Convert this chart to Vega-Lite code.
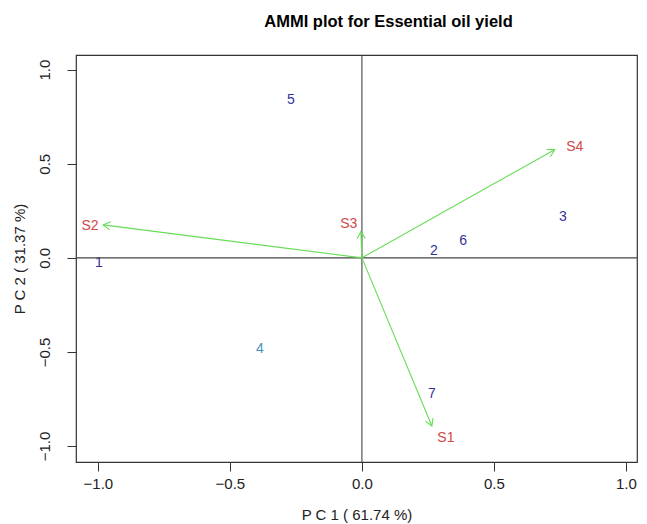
{
  "$schema": "https://vega.github.io/schema/vega-lite/v6.json",
  "width": 561,
  "height": 407,
  "autosize": {"type": "none"},
  "padding": {"left": 76, "top": 55, "right": 10, "bottom": 62},
  "background": "white",
  "title": {
    "text": "AMMI plot for Essential oil yield",
    "font": "Liberation Sans",
    "fontSize": 16.5,
    "fontWeight": "bold",
    "color": "black",
    "anchor": "middle",
    "dx": 32,
    "offset": 24
  },
  "config": {
    "view": {"stroke": "#333333", "strokeWidth": 1.2},
    "axis": {
      "grid": false,
      "domain": false,
      "ticks": true,
      "tickColor": "#333333",
      "tickSize": 9,
      "labelFont": "Liberation Sans",
      "labelFontSize": 15,
      "labelColor": "#222222",
      "titleFont": "Liberation Sans",
      "titleFontSize": 15,
      "titleFontWeight": "normal",
      "titleColor": "#222222"
    }
  },
  "datasets": {
    "genotypes": [
      {"label": "1", "PC1": -0.996, "PC2": -0.025},
      {"label": "2", "PC1": 0.273, "PC2": 0.037},
      {"label": "3", "PC1": 0.761, "PC2": 0.218},
      {"label": "4", "PC1": -0.386, "PC2": -0.484},
      {"label": "5", "PC1": -0.269, "PC2": 0.84},
      {"label": "6", "PC1": 0.383, "PC2": 0.09},
      {"label": "7", "PC1": 0.265, "PC2": -0.723}
    ],
    "environments": [
      {"label": "S1", "PC1": 0.265, "PC2": -0.894, "angle": 67.4, "lx": 0.318, "ly": -0.955},
      {"label": "S2", "PC1": -0.98, "PC2": 0.175, "angle": 187.3, "lx": -1.03, "ly": 0.17},
      {"label": "S3", "PC1": -0.004, "PC2": 0.14, "angle": 267.8, "lx": -0.05, "ly": 0.18},
      {"label": "S4", "PC1": 0.73, "PC2": 0.575, "angle": 330.6, "lx": 0.806, "ly": 0.59}
    ]
  },
  "layer": [
    {
      "data": {"name": "genotypes"},
      "mark": {"type": "text", "font": "Liberation Sans", "fontSize": 14},
      "encoding": {
        "x": {
          "field": "PC1",
          "type": "quantitative",
          "scale": {"domain": [-1.083, 1.042], "nice": false, "zero": false},
          "axis": {
            "title": "P C 1 ( 61.74 %)",
            "values": [-1, -0.5, 0, 0.5, 1],
            "format": ".1f",
            "labelPadding": 5,
            "titlePadding": 16
          }
        },
        "y": {
          "field": "PC2",
          "type": "quantitative",
          "scale": {"domain": [-1.085, 1.078], "nice": false, "zero": false},
          "axis": {
            "title": "P C 2 ( 31.37 %)",
            "values": [-1, -0.5, 0, 0.5, 1],
            "format": ".1f",
            "labelAngle": -90,
            "labelAlign": "center",
            "labelBaseline": "bottom",
            "labelPadding": 15,
            "titlePadding": 10
          }
        },
        "text": {"field": "label"},
        "color": {
          "field": "label",
          "type": "nominal",
          "scale": {
            "domain": ["1", "2", "3", "4", "5", "6", "7"],
            "range": ["#33339c", "#33339c", "#33339c", "#4a90c0", "#33339c", "#33339c", "#33339c"]
          },
          "legend": null
        }
      }
    },
    {
      "data": {"values": [{"v": 0}]},
      "mark": {"type": "rule", "color": "#444444", "strokeWidth": 1.1},
      "encoding": {"x": {"field": "v", "type": "quantitative"}}
    },
    {
      "data": {"values": [{"v": 0}]},
      "mark": {"type": "rule", "color": "#444444", "strokeWidth": 1.1},
      "encoding": {"y": {"field": "v", "type": "quantitative"}}
    },
    {
      "data": {"name": "environments"},
      "mark": {"type": "rule", "color": "#66dd55", "strokeWidth": 1.1},
      "encoding": {
        "x": {"field": "PC1", "type": "quantitative"},
        "y": {"field": "PC2", "type": "quantitative"},
        "x2": {"datum": 0},
        "y2": {"datum": 0}
      }
    },
    {
      "data": {"name": "environments"},
      "mark": {
        "type": "point",
        "shape": "M -1 -0.58 L 0 0 L -1 0.58",
        "filled": false,
        "stroke": "#66dd55",
        "strokeWidth": 1.1,
        "size": 200,
        "opacity": 1
      },
      "encoding": {
        "x": {"field": "PC1", "type": "quantitative"},
        "y": {"field": "PC2", "type": "quantitative"},
        "angle": {"field": "angle", "type": "quantitative", "scale": null}
      }
    },
    {
      "data": {"name": "environments"},
      "mark": {"type": "text", "font": "Liberation Sans", "fontSize": 14, "color": "#d04848"},
      "encoding": {
        "x": {"field": "lx", "type": "quantitative"},
        "y": {"field": "ly", "type": "quantitative"},
        "text": {"field": "label"}
      }
    }
  ]
}
